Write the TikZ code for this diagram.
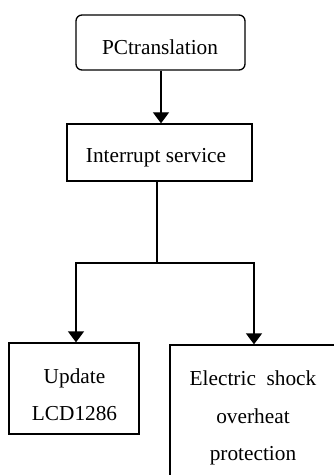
\documentclass[tikz,border=0pt]{standalone}
\usepackage{fontspec}
\setmainfont{Liberation Serif}
\usetikzlibrary{arrows.meta}
\begin{document}
\begin{tikzpicture}[x=1bp,y=-1bp,
  box/.style={draw,line width=1.3bp,inner sep=0pt,minimum width=#1},
  lbl/.style={anchor=base,inner sep=0pt,font=\fontsize{21.3bp}{26bp}\selectfont},
  arr/.style={line width=1.3bp,-{Triangle[width=16bp,length=11bp]}},
  conn/.style={line width=1.3bp}]
\useasboundingbox (0,0) rectangle (333,475);
\node[box=169bp,minimum height=55bp,rounded corners=6bp] (pc) at (160.5,42.5) {};
\node[box=185bp,minimum height=57bp] (intr) at (159.5,152.5) {};
\node[box=130bp,minimum height=91bp] (upd) at (74,388.5) {};
\node[box=200bp,minimum height=160bp] (el) at (270,425) {};
\node[lbl] (t1) at (160,55) {PCtranslation};
\node[lbl] (t2) at (156,162.5) {Interrupt service};
\node[lbl] (t3) at (74.5,383) {Update};
\node[lbl] (t4) at (74.5,420) {LCD1286};
\node[lbl] (t5) at (253,385) {Electric\ \ shock};
\node[lbl] (t6) at (253,423) {overheat};
\node[lbl] (t7) at (253,460) {protection};
\coordinate (j) at (157,263);
\draw[arr] (pc.south -| 161,0) -- (161,0 |- intr.north);
\draw[conn] (intr.south -| j) -- (j);
\draw[arr] (j) -| (76,0 |- upd.north);
\draw[arr] (j) -| (254,0 |- el.north);
\end{tikzpicture}
\end{document}
